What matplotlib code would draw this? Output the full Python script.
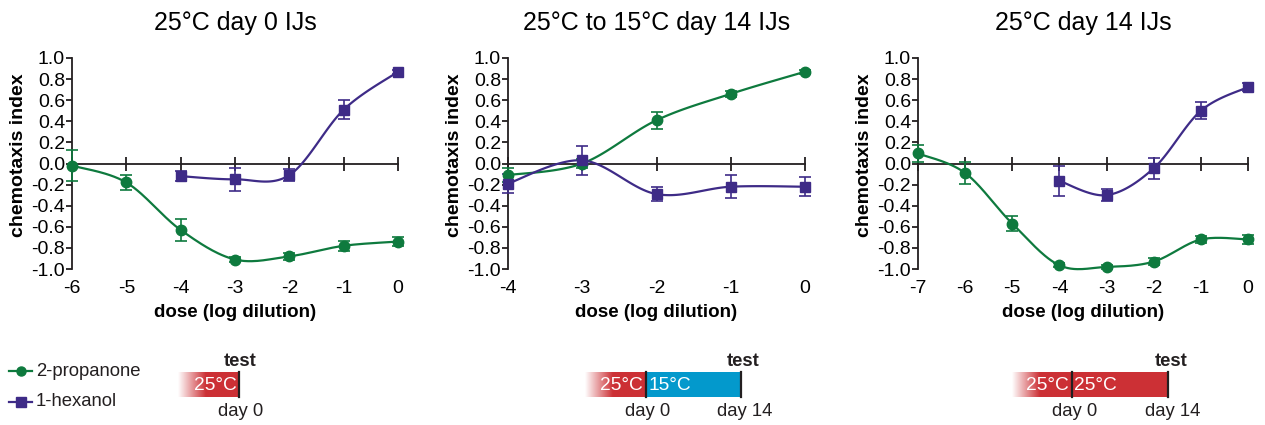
import numpy as np
import matplotlib
matplotlib.use("Agg")
import matplotlib.pyplot as plt
from matplotlib.patches import Rectangle

plt.rcParams['font.family'] = ['Liberation Sans', 'DejaVu Sans']

GREEN = '#0e7a3e'
PURPLE = '#3e2b87'
RED = '#cc3035'
BLUE = '#0399cc'
AXC = '#231f20'

# ---------------- data ----------------
titles = ["25°C day 0 IJs", "25°C to 15°C day 14 IJs", "25°C day 14 IJs"]

p1_dose_prop = [-6, -5, -4, -3, -2, -1, 0]
p1_prop = [-0.02, -0.18, -0.63, -0.91, -0.88, -0.78, -0.74]
p1_prop_err = [0.15, 0.07, 0.10, 0.02, 0.03, 0.05, 0.04]
p1_dose_hex = [-4, -3, -2, -1, 0]
p1_hex = [-0.12, -0.15, -0.11, 0.51, 0.87]
p1_hex_err = [0.05, 0.11, 0.06, 0.09, 0.02]

p2_dose_prop = [-4, -3, -2, -1, 0]
p2_prop = [-0.11, 0.00, 0.41, 0.66, 0.87]
p2_prop_err = [0.07, 0.04, 0.08, 0.03, 0.02]
p2_dose_hex = [-4, -3, -2, -1, 0]
p2_hex = [-0.19, 0.03, -0.29, -0.22, -0.22]
p2_hex_err = [0.09, 0.14, 0.07, 0.11, 0.09]

p3_dose_prop = [-7, -6, -5, -4, -3, -2, -1, 0]
p3_prop = [0.095, -0.09, -0.57, -0.965, -0.98, -0.93, -0.72, -0.72]
p3_prop_err = [0.08, 0.10, 0.07, 0.02, 0.02, 0.03, 0.03, 0.04]
p3_dose_hex = [-4, -3, -2, -1, 0]
p3_hex = [-0.165, -0.30, -0.045, 0.50, 0.725]
p3_hex_err = [0.14, 0.06, 0.10, 0.08, 0.04]

x_ranges = [(-6, 0), (-4, 0), (-7, 0)]
y_ticks = [1.0, 0.8, 0.6, 0.4, 0.2, 0.0, -0.2, -0.4, -0.6, -0.8, -1.0]

panels = [
    (p1_dose_prop, p1_prop, p1_prop_err, p1_dose_hex, p1_hex, p1_hex_err),
    (p2_dose_prop, p2_prop, p2_prop_err, p2_dose_hex, p2_hex, p2_hex_err),
    (p3_dose_prop, p3_prop, p3_prop_err, p3_dose_hex, p3_hex, p3_hex_err),
]


def smooth(xs, ys, n=30):
    """Excel-like smoothed line (Catmull-Rom as cubic Bezier)."""
    xs = np.asarray(xs, float)
    ys = np.asarray(ys, float)
    P = np.column_stack([xs, ys])
    out = []
    for i in range(len(P) - 1):
        p0 = P[i - 1] if i > 0 else P[i]
        p1 = P[i]
        p2 = P[i + 1]
        p3 = P[i + 2] if i + 2 < len(P) else P[i + 1]
        c1 = p1 + (p2 - p0) / 6.0
        c2 = p2 - (p3 - p1) / 6.0
        t = np.linspace(0, 1, n)[:, None]
        b = ((1 - t) ** 3) * p1 + 3 * ((1 - t) ** 2) * t * c1 + 3 * (1 - t) * t ** 2 * c2 + t ** 3 * p2
        out.append(b if i == 0 else b[1:])
    out = np.vstack(out)
    return out[:, 0], out[:, 1]


W, H = 1265, 425
fig = plt.figure(figsize=(W / 100, H / 100), dpi=100)

axes_px = [(72, 398), (508, 805), (918, 1248)]
top_px, bot_px = 58, 269

for k, ((xl, xr), (dp, yp, ep, dh, yh, eh)) in enumerate(zip(axes_px, panels)):
    ax = fig.add_axes([xl / W, 1 - bot_px / H, (xr - xl) / W, (bot_px - top_px) / H])
    x0, x1 = x_ranges[k]
    ax.set_xlim(x0, x1)
    ax.set_ylim(-1.0, 1.0)
    for s in ['top', 'right']:
        ax.spines[s].set_visible(False)
    ax.spines['left'].set_color(AXC)
    ax.spines['left'].set_linewidth(1.3)
    ax.spines['bottom'].set_position(('data', 0))
    ax.spines['bottom'].set_color(AXC)
    ax.spines['bottom'].set_linewidth(1.3)
    ax.set_xticks(list(range(x0, x1 + 1)))
    ax.tick_params(axis='x', direction='inout', length=10, width=1.3, color=AXC,
                   labelbottom=False)
    ax.set_yticks(y_ticks)
    ax.set_yticklabels([f"{v:.1f}" for v in y_ticks])
    ax.tick_params(axis='y', direction='out', length=4, width=1.3, color=AXC,
                   labelsize=14, pad=1)
    ax.set_ylabel("chemotaxis index", fontsize=14, fontweight='bold')
    ax.yaxis.set_label_coords(-45.0 / (xr - xl), 0.54)

    sec = ax.secondary_xaxis('bottom')
    sec.set_xticks(list(range(x0, x1 + 1)))
    sec.set_xticklabels([str(v) for v in range(x0, x1 + 1)])
    sec.spines['bottom'].set_visible(False)
    sec.tick_params(length=0, labelsize=14, pad=8)
    sec.set_xlabel("dose (log dilution)", fontsize=13.5, fontweight='bold', labelpad=5)

    ax.set_title(titles[k], fontsize=18, pad=20)

    for xs, ys, es, col, mk in [(dp, yp, ep, GREEN, 'o'), (dh, yh, eh, PURPLE, 's')]:
        sx, sy = smooth(xs, ys)
        ax.plot(sx, sy, color=col, lw=1.6, clip_on=False, zorder=3)
        ax.errorbar(xs, ys, yerr=es, fmt='none', ecolor=col, elinewidth=1.2,
                    capsize=4, capthick=1.2, clip_on=False, zorder=4)
        ax.plot(xs, ys, linestyle='none', marker=mk, color=col,
                markersize=7.5, clip_on=False, zorder=5)

# --------------- bottom annotations (legend + temperature schematics) ---------------
ov = fig.add_axes([0, 0, 1, 1])
ov.set_xlim(0, W)
ov.set_ylim(H, 0)
ov.axis('off')

FS = 13.3
# legend
ov.plot([9, 32], [371, 371], color=GREEN, lw=1.6)
ov.plot([20.5], [371], marker='o', color=GREEN, markersize=6.5, linestyle='none')
ov.text(36, 371, "2-propanone", fontsize=FS, va='center', ha='left', color='#231f20')
ov.plot([9, 32], [402, 402], color=PURPLE, lw=1.6)
ov.plot([20.5], [402], marker='s', color=PURPLE, markersize=6.5, linestyle='none')
ov.text(36, 402, "1-hexanol", fontsize=FS, va='center', ha='left', color='#231f20')

red_rgb = np.array(matplotlib.colors.to_rgb(RED))


def grad_bar(x_start, x_end, y0, y1, fade=28):
    n = 256
    t = np.clip(np.linspace(0, 1, n) * (x_end - x_start) / fade, 0, 1)[None, :, None]
    img = (1 - t) * np.ones(3) + t * red_rgb
    ov.imshow(img, extent=[x_start, x_end, y1, y0], aspect='auto',
              interpolation='bilinear', zorder=2)


by0, by1 = 372, 397
TXT = '#231f20'


def sched(bar_start, div, bar_end, second_color, label2, test_x, day0_x, day14_x):
    if div is None:
        grad_bar(bar_start, bar_end, by0, by1)
        ov.text(bar_end - 2, (by0 + by1) / 2 + 1, "25°C", color='white', fontsize=13.8,
                ha='right', va='center', zorder=4)
    else:
        grad_bar(bar_start, div, by0, by1)
        ov.add_patch(Rectangle((div, by0), bar_end - div, by1 - by0, color=second_color,
                               lw=0, zorder=2))
        ov.plot([div, div], [by0, by1], color=TXT, lw=1.6, zorder=3)
        ov.text(div - 3, (by0 + by1) / 2 + 1, "25°C", color='white', fontsize=13.8,
                ha='right', va='center', zorder=4)
        ov.text(div + 2, (by0 + by1) / 2 + 1, label2, color='white', fontsize=13.8,
                ha='left', va='center', zorder=4)
    ov.plot([bar_end, bar_end], [by0, by1], color=TXT, lw=1.6, zorder=3)
    ov.text(test_x, 362, "test", fontweight='bold', fontsize=FS, ha='center',
            va='center', color=TXT)
    ov.text(day0_x, 412, "day 0", fontsize=FS, ha='center', va='center', color=TXT)
    if day14_x is not None:
        ov.text(day14_x, 412, "day 14", fontsize=FS, ha='center', va='center', color=TXT)


sched(178, None, 239, None, None, 240, 241, None)
sched(585, 646, 741, BLUE, "15°C", 743, 648, 745)
sched(1012, 1072, 1168, RED, "25°C", 1171, 1075, 1173)

fig.savefig("out.png", dpi=100)
